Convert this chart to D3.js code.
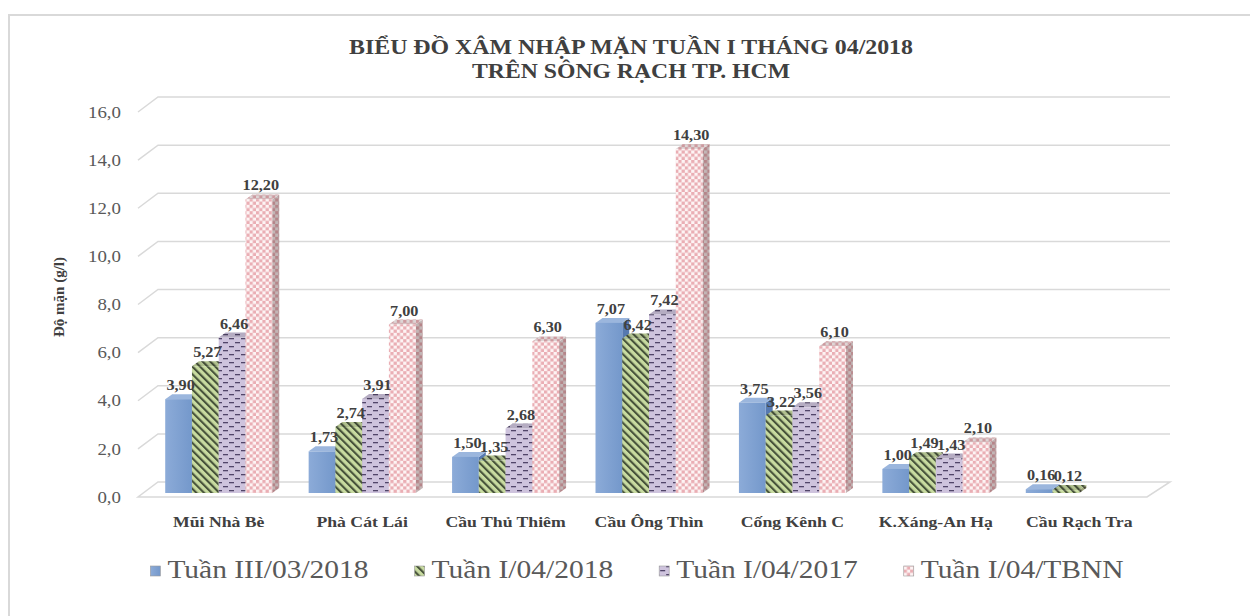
<!DOCTYPE html>
<html>
<head>
<meta charset="utf-8">
<script src="https://cdn.jsdelivr.net/npm/d3@7"></script>
<style>
  body { margin: 0; background: #fff; }
  svg { display: block; }
  text { font-family: "Liberation Serif", "Times New Roman", "DejaVu Serif", serif; }
</style>
</head>
<body>
<div id="chart"></div>
<script>
// data
const categories = ['Mũi Nhà Bè', 'Phà Cát Lái', 'Cầu Thủ Thiêm', 'Cầu Ông Thìn', 'Cống Kênh C', 'K.Xáng-An Hạ', 'Cầu Rạch Tra'];
const seriesNames = ['Tuần III/03/2018', 'Tuần I/04/2018', 'Tuần I/04/2017', 'Tuần I/04/TBNN'];
const tuan3_03_2018 = [3.90, 1.73, 1.50, 7.07, 3.75, 1.00, 0.16];
const tuan1_04_2018 = [5.27, 2.74, 1.35, 6.42, 3.22, 1.49, 0.12];
const tuan1_04_2017 = [6.46, 3.91, 2.68, 7.42, 3.56, 1.43, null];
const tuan1_04_tbnn = [12.20, 7.00, 6.30, 14.30, 6.10, 2.10, null];
const yTicks = [0, 2, 4, 6, 8, 10, 12, 14, 16];
const titleLines = ['BIỂU ĐỒ XÂM NHẬP MẶN TUẦN I THÁNG 04/2018', 'TRÊN SÔNG RẠCH TP. HCM'];
const yTitle = 'Độ mặn (g/l)';

!(function () {
  'use strict';
  // - - - - - - - - - -
  let
    W = 1250,
    H = 616,
    SX = 1.18,            // the picture is stretched sideways
    FONT = '"Liberation Serif", "Times New Roman", serif',
    FRONT = { dx: -10, dy: 4 },
    BACK = { dx: 10, dy: -11 },
    DEPTH = { dx: 7, dy: -5 },
    wall = { x0: 148, x1: 1160 },
    series = [tuan3_03_2018, tuan1_04_2018, tuan1_04_2017, tuan1_04_tbnn],
    fills = ['url(#gBlue)', 'url(#pGreen)', 'url(#pPurple)', 'url(#pPink)'],
    sideFills = ['#5679b0', 'url(#pGreen)', 'url(#pPurple)', 'url(#pPink)'],
    topFills = ['#9bb6dd', 'url(#pGreen)', 'url(#pPurple)', 'url(#pPink)'],
    locale = d3.formatLocale({ decimal: ',', thousands: '.', grouping: [3], currency: ['', ''] }),
    fmt1 = locale.format('.1f'),
    fmt2 = locale.format('.2f'),
    svg, defs, x, xi, y, bars;

  svg = d3.select('#chart').append('svg')
    .attr('width', W)
    .attr('height', H)
    .attr('font-family', FONT);

  // patterns
  defs = svg.append('defs');
  let gb = defs.append('linearGradient').attr('id', 'gBlue').attr('x1', 0).attr('x2', 1).attr('y1', 0).attr('y2', 0);
  gb.append('stop').attr('offset', 0).attr('stop-color', '#8cabd8');
  gb.append('stop').attr('offset', 1).attr('stop-color', '#7498cb');

  let pg = defs.append('pattern').attr('id', 'pGreen').attr('patternUnits', 'userSpaceOnUse')
    .attr('width', 5.4).attr('height', 5.4).attr('patternTransform', 'rotate(-45)');
  pg.append('rect').attr('width', 5.4).attr('height', 5.4).attr('fill', '#c8dba0');
  pg.append('rect').attr('width', 2.1).attr('height', 5.4).attr('fill', '#46523a');

  let pp = defs.append('pattern').attr('id', 'pPurple').attr('patternUnits', 'userSpaceOnUse')
    .attr('width', 12).attr('height', 8);
  pp.append('rect').attr('width', 12).attr('height', 8).attr('fill', '#cec3dd');
  pp.append('rect').attr('x', 1).attr('y', 2).attr('width', 5).attr('height', 1.3).attr('fill', '#514569');
  pp.append('rect').attr('x', 7).attr('y', 6).attr('width', 5).attr('height', 1.3).attr('fill', '#514569');

  let pk = defs.append('pattern').attr('id', 'pPink').attr('patternUnits', 'userSpaceOnUse')
    .attr('width', 6.4).attr('height', 6.4);
  pk.append('rect').attr('width', 6.4).attr('height', 6.4).attr('fill', '#fdf4f4');
  pk.append('rect').attr('width', 3.2).attr('height', 3.2).attr('fill', '#eaaeb4');
  pk.append('rect').attr('x', 3.2).attr('y', 3.2).attr('width', 3.2).attr('height', 3.2).attr('fill', '#eaaeb4');

  // frame (only top and left show in the crop)
  svg.append('path')
    .attr('d', 'M9,' + H + 'V15H' + W)
    .attr('fill', 'none').attr('stroke', '#d9d9d9').attr('stroke-width', 2);

  // scales
  x = d3.scaleBand().domain(categories).range([147, 1151]).paddingInner(0.254).paddingOuter(0.127);
  xi = d3.scaleBand().domain(d3.range(series.length)).range([0, x.bandwidth()]);
  y = d3.scaleLinear().domain([0, 16]).range([493, 108]);

  // floor
  let y0 = y(0);
  svg.append('path')
    .attr('d', 'M' + (wall.x0 + FRONT.dx) + ',' + (y0 + FRONT.dy) +
      'L' + (wall.x1 + FRONT.dx - 3) + ',' + (y0 + FRONT.dy) +
      'L' + (wall.x1 + BACK.dx) + ',' + (y0 + BACK.dy) +
      'L' + (wall.x0 + BACK.dx) + ',' + (y0 + BACK.dy) + 'Z')
    .attr('fill', '#fff').attr('stroke', '#d9d9d9').attr('stroke-width', 1.5);

  // gridlines on side and back wall
  let grid = svg.append('g').attr('fill', 'none').attr('stroke', '#d9d9d9').attr('stroke-width', 1.5);
  yTicks.filter(function (t) { return t > 0; }).forEach(function (t) {
    grid.append('path')
      .attr('d', 'M' + (wall.x0 + FRONT.dx) + ',' + (y(t) + FRONT.dy) +
        'L' + (wall.x0 + BACK.dx) + ',' + (y(t) + BACK.dy) +
        'H' + (wall.x1 + BACK.dx));
  });

  // y axis labels
  svg.append('g')
    .attr('transform', 'translate(121,' + FRONT.dy + ')')
    .call(d3.axisLeft(y).tickValues(yTicks).tickFormat(fmt1).tickSize(0).tickPadding(0))
    .attr('font-family', FONT)
    .call(function (g) { g.select('.domain').remove(); })
    .selectAll('text')
    .attr('x', 0)
    .attr('transform', 'scale(' + SX + ',1)')
    .attr('font-size', 16)
    .attr('fill', '#595959');

  // category labels
  let xg = svg.append('g')
    .attr('transform', 'translate(0,527)')
    .call(d3.axisBottom(x).tickSize(0))
    .attr('font-family', FONT)
    .call(function (g) { g.select('.domain').remove(); });
  xg.selectAll('text')
    .attr('y', 0).attr('dy', null)
    .attr('transform', 'scale(' + SX + ',1)')
    .attr('font-weight', 'bold')
    .attr('font-size', 15)
    .attr('fill', '#404040');

  // bars
  let barData = [];
  categories.forEach(function (c, ci) {
    series.forEach(function (s, si) {
      if (s[ci] != null) barData.push({ c: c, s: si, v: s[ci] });
    });
  });

  bars = svg.append('g').selectAll('g.bar').data(barData).join('g').attr('class', 'bar');
  bars.each(function (d) {
    let g = d3.select(this),
      bx = x(d.c) + xi(d.s),
      bw = xi.bandwidth(),
      top = y(d.v),
      base = y(0),
      dx = DEPTH.dx,
      dy = DEPTH.dy,
      side = 'M' + (bx + bw) + ',' + top + 'L' + (bx + bw + dx) + ',' + (top + dy) +
        'L' + (bx + bw + dx) + ',' + (base + dy) + 'L' + (bx + bw) + ',' + base + 'Z',
      lid = 'M' + bx + ',' + top + 'L' + (bx + dx) + ',' + (top + dy) +
        'L' + (bx + bw + dx) + ',' + (top + dy) + 'L' + (bx + bw) + ',' + top + 'Z';
    g.append('path').attr('d', side).attr('fill', sideFills[d.s]);
    if (d.s > 0) g.append('path').attr('d', side).attr('fill', 'rgba(60,40,40,0.3)');
    g.append('path').attr('d', lid).attr('fill', topFills[d.s]);
    if (d.s > 0) g.append('path').attr('d', lid).attr('fill', 'rgba(40,40,40,0.15)');
    g.append('rect')
      .attr('x', bx).attr('y', top)
      .attr('width', bw).attr('height', base - top)
      .attr('fill', fills[d.s]);
  });

  // value labels
  svg.append('g').selectAll('text').data(barData).join('text')
    .attr('transform', function (d) {
      return 'translate(' + (x(d.c) + xi(d.s) + xi.bandwidth() / 2 + 2) + ',' + (y(d.v) - 9) + ') scale(1.12,1)';
    })
    .attr('text-anchor', 'middle')
    .attr('font-weight', 'bold')
    .attr('font-size', 14.5)
    .attr('fill', '#404040')
    .text(function (d) { return fmt2(d.v); });

  // title
  svg.append('g').selectAll('text').data(titleLines).join('text')
    .attr('x', 631)
    .attr('y', function (d, i) { return 54 + i * 24; })
    .attr('text-anchor', 'middle')
    .attr('font-weight', 'bold')
    .attr('font-size', 20)
    .attr('fill', '#404040')
    .attr('textLength', function (d, i) { return i === 0 ? 564 : 318; })
    .attr('lengthAdjust', 'spacingAndGlyphs')
    .text(function (d) { return d; });

  // y title
  svg.append('text')
    .attr('transform', 'translate(64,297) rotate(-90)')
    .attr('text-anchor', 'middle')
    .attr('font-weight', 'bold')
    .attr('font-size', 15)
    .attr('fill', '#404040')
    .text(yTitle);

  // legend
  let legend = svg.append('g'),
    items = legend.selectAll('g').data(seriesNames).join('g'),
    widths = [],
    pos = 0;
  items.append('text')
    .attr('transform', 'translate(17,578) scale(' + SX + ',1)')
    .attr('font-size', 25)
    .attr('fill', '#595959')
    .text(function (d) { return d; })
    .each(function () { widths.push(this.getComputedTextLength() * SX); });
  items.append('rect')
    .attr('x', 0).attr('y', 566).attr('width', 10).attr('height', 10)
    .attr('fill', function (d, i) { return fills[i]; })
    .attr('stroke', '#9a9a9a').attr('stroke-width', 0.6);
  items.attr('transform', function (d, i) {
    let p = pos;
    pos += 17 + widths[i] + 46;
    return 'translate(' + p + ',0)';
  });
  let total = pos - 46;
  legend.attr('transform', 'translate(' + (637 - total / 2) + ',0)');
  // - - - - - - - - - -
}());
</script>
</body>
</html>
